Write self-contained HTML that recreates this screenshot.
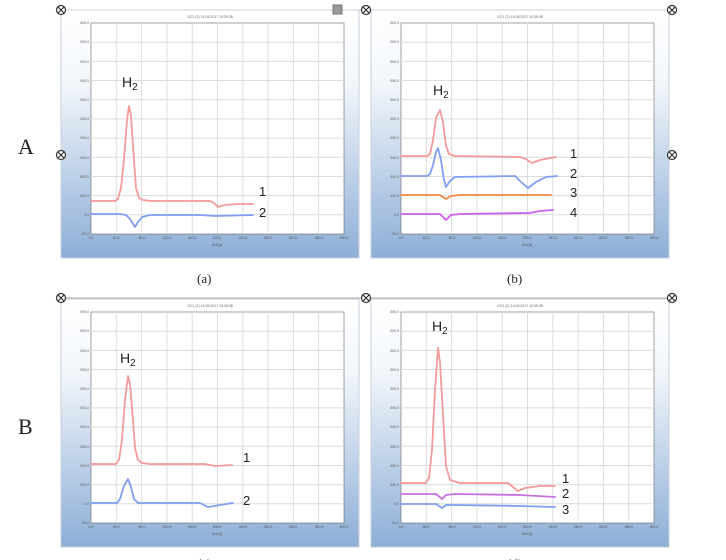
<!DOCTYPE html>
<html><head><meta charset="utf-8"><style>
html,body{margin:0;padding:0;background:#fff;width:726px;height:560px;overflow:hidden}
svg{display:block;font-family:"Liberation Sans",sans-serif}
</style></head><body>
<svg width="726" height="560" viewBox="0 0 726 560" xmlns="http://www.w3.org/2000/svg">
<defs>
<linearGradient id="g" x1="0" y1="0" x2="0" y2="1">
<stop offset="0" stop-color="#ffffff"/><stop offset="0.3" stop-color="#f2f6fb"/><stop offset="1" stop-color="#8eaed7"/>
</linearGradient>
<g id="grid" stroke="#dcdcdc" stroke-width="1">
<line x1="25.3" y1="0" x2="25.3" y2="211"/><line x1="50.6" y1="0" x2="50.6" y2="211"/><line x1="75.9" y1="0" x2="75.9" y2="211"/><line x1="101.2" y1="0" x2="101.2" y2="211"/><line x1="126.5" y1="0" x2="126.5" y2="211"/><line x1="151.8" y1="0" x2="151.8" y2="211"/><line x1="177.1" y1="0" x2="177.1" y2="211"/><line x1="202.4" y1="0" x2="202.4" y2="211"/><line x1="227.7" y1="0" x2="227.7" y2="211"/>
<line x1="0" y1="19.2" x2="253" y2="19.2"/><line x1="0" y1="38.4" x2="253" y2="38.4"/><line x1="0" y1="57.5" x2="253" y2="57.5"/><line x1="0" y1="76.7" x2="253" y2="76.7"/><line x1="0" y1="95.9" x2="253" y2="95.9"/><line x1="0" y1="115.1" x2="253" y2="115.1"/><line x1="0" y1="134.3" x2="253" y2="134.3"/><line x1="0" y1="153.5" x2="253" y2="153.5"/><line x1="0" y1="172.6" x2="253" y2="172.6"/><line x1="0" y1="191.8" x2="253" y2="191.8"/>
</g>
<g id="ax" font-size="3.5" fill="#555">
<text x="0" y="216" text-anchor="middle">0,0</text><text x="25" y="216" text-anchor="middle">40,0</text><text x="51" y="216" text-anchor="middle">80,0</text><text x="76" y="216" text-anchor="middle">120,0</text><text x="101" y="216" text-anchor="middle">160,0</text><text x="126" y="216" text-anchor="middle">200,0</text><text x="152" y="216" text-anchor="middle">240,0</text><text x="177" y="216" text-anchor="middle">280,0</text><text x="202" y="216" text-anchor="middle">320,0</text><text x="228" y="216" text-anchor="middle">360,0</text><text x="253" y="216" text-anchor="middle">400,0</text>
<text x="126" y="223" text-anchor="middle">Zeit [s]</text>
<g text-anchor="end"><text x="-2" y="1">000,0</text><text x="-2" y="20">000,0</text><text x="-2" y="40">000,0</text><text x="-2" y="59">000,0</text><text x="-2" y="78">000,0</text><text x="-2" y="97">000,0</text><text x="-2" y="116">000,0</text><text x="-2" y="136">000,0</text><text x="-2" y="155">000,0</text><text x="-2" y="174">000,0</text><text x="-2" y="193">0,0</text><text x="-2" y="212">-20,0</text></g>
</g>
<g id="frame">
<rect x="0" y="0" width="298" height="248" fill="url(#g)" stroke="#c8d0dc"/>
<rect x="30" y="13" width="253" height="211" fill="#fff" stroke="#666" stroke-width="0.6"/>
<use href="#grid" x="30" y="13"/>
<use href="#ax" x="30" y="13"/>
<text x="149" y="8" font-size="3.5" fill="#666" text-anchor="middle">GC1 (2)      14.05.2017 10:35:38</text>
</g>
<g id="cx"><circle r="4.5" fill="#fff" stroke="#333" stroke-width="1.2"/><path d="M-3 -3L3 3M3 -3L-3 3" stroke="#333" stroke-width="1.2"/></g>
</defs>

<g stroke="#999" stroke-width="0.8"><line x1="60" y1="10" x2="672" y2="10"/><line x1="60" y1="298" x2="672" y2="298"/></g>

<use href="#frame" x="61" y="10"/>
<use href="#frame" x="371" y="10"/>
<use href="#frame" x="61" y="299"/>
<use href="#frame" x="371" y="299"/>

<g fill="none" stroke-width="1.8" stroke-linejoin="round" stroke-linecap="round">
<polyline stroke="#f39a9a" points="91,201 115,201 118,199 121,188 124,160 127,120 129,106 131,116 134,160 136,188 139,198 143,200 150,201 210,201 214,203 218,207 225,205 238,204 253,204"/>
<polyline stroke="#7f9ff2" points="91,214 120,214 126,215 130,219 135,227 138,222 142,217 150,215 200,215 215,216 253,215"/>
<polyline stroke="#f39a9a" points="401,156 427,156 430,154 433,140 436,118 440,110 443,122 446,146 449,154 455,156 520,157 526,159 532,163 540,160 556,157"/>
<polyline stroke="#7f9ff2" points="401,176 427,176 430,174 433,165 436,152 438,148 441,160 444,180 446,187 450,181 455,177 515,176 520,181 528,188 536,182 546,177 557,176"/>
<polyline stroke="#f08848" points="401,195 440,195 446,199 451,196 460,195 551,195"/>
<polyline stroke="#c860e8" points="401,214 440,214 446,220 451,215 460,214 530,213 540,211 553,210"/>
<polyline stroke="#f39a9a" points="91,464 116,464 119,460 122,440 125,400 128,376 130,384 133,420 135,448 138,460 142,463 150,464 205,464 215,466 232,465"/>
<polyline stroke="#7f9ff2" points="91,503 117,503 120,499 124,486 128,479 131,487 134,499 138,503 200,503 204,505 208,507 220,505 233,503"/>
<polyline stroke="#f39a9a" points="401,483 426,483 429,478 432,450 435,390 438,348 440,362 443,415 446,466 450,480 460,483 508,483 513,487 518,491 525,488 540,486 555,486"/>
<polyline stroke="#c870e0" points="401,494 436,494 442,499 446,495 455,494 520,495 555,497"/>
<polyline stroke="#7f9ff2" points="401,504 436,504 442,508 446,505 455,505 520,506 555,507"/>
</g>

<g font-family="Liberation Sans,sans-serif" fill="#222">
<text x="122" y="87" font-size="14">H<tspan font-size="10" dy="3">2</tspan></text>
<text x="433" y="95" font-size="14">H<tspan font-size="10" dy="3">2</tspan></text>
<text x="120" y="363" font-size="14">H<tspan font-size="10" dy="3">2</tspan></text>
<text x="432" y="331" font-size="14">H<tspan font-size="10" dy="3">2</tspan></text>
<g font-size="13">
<text x="259" y="196">1</text><text x="259" y="217">2</text>
<text x="570" y="158">1</text><text x="570" y="178">2</text><text x="570" y="197">3</text><text x="570" y="217">4</text>
<text x="243" y="462">1</text><text x="243" y="505">2</text>
<text x="562" y="483">1</text><text x="562" y="498">2</text><text x="562" y="514">3</text>
</g>
<g font-family="Liberation Serif,serif" font-size="13">
<text x="197" y="283">(a)</text><text x="507" y="283">(b)</text>
<text x="197" y="568">(c)</text><text x="507" y="568">(d)</text>
</g>
<text x="18" y="154" font-family="Liberation Serif,serif" font-size="22">A</text>
<text x="18" y="434" font-family="Liberation Serif,serif" font-size="22">B</text>
</g>

<rect x="333" y="5" width="9" height="9" fill="#999" stroke="#777"/>
<use href="#cx" x="61" y="10"/><use href="#cx" x="366" y="10"/><use href="#cx" x="61" y="155"/>
<use href="#cx" x="672" y="10"/><use href="#cx" x="672" y="155"/>
<use href="#cx" x="61" y="298"/><use href="#cx" x="366" y="298"/><use href="#cx" x="672" y="298"/>
</svg>
</body></html>
